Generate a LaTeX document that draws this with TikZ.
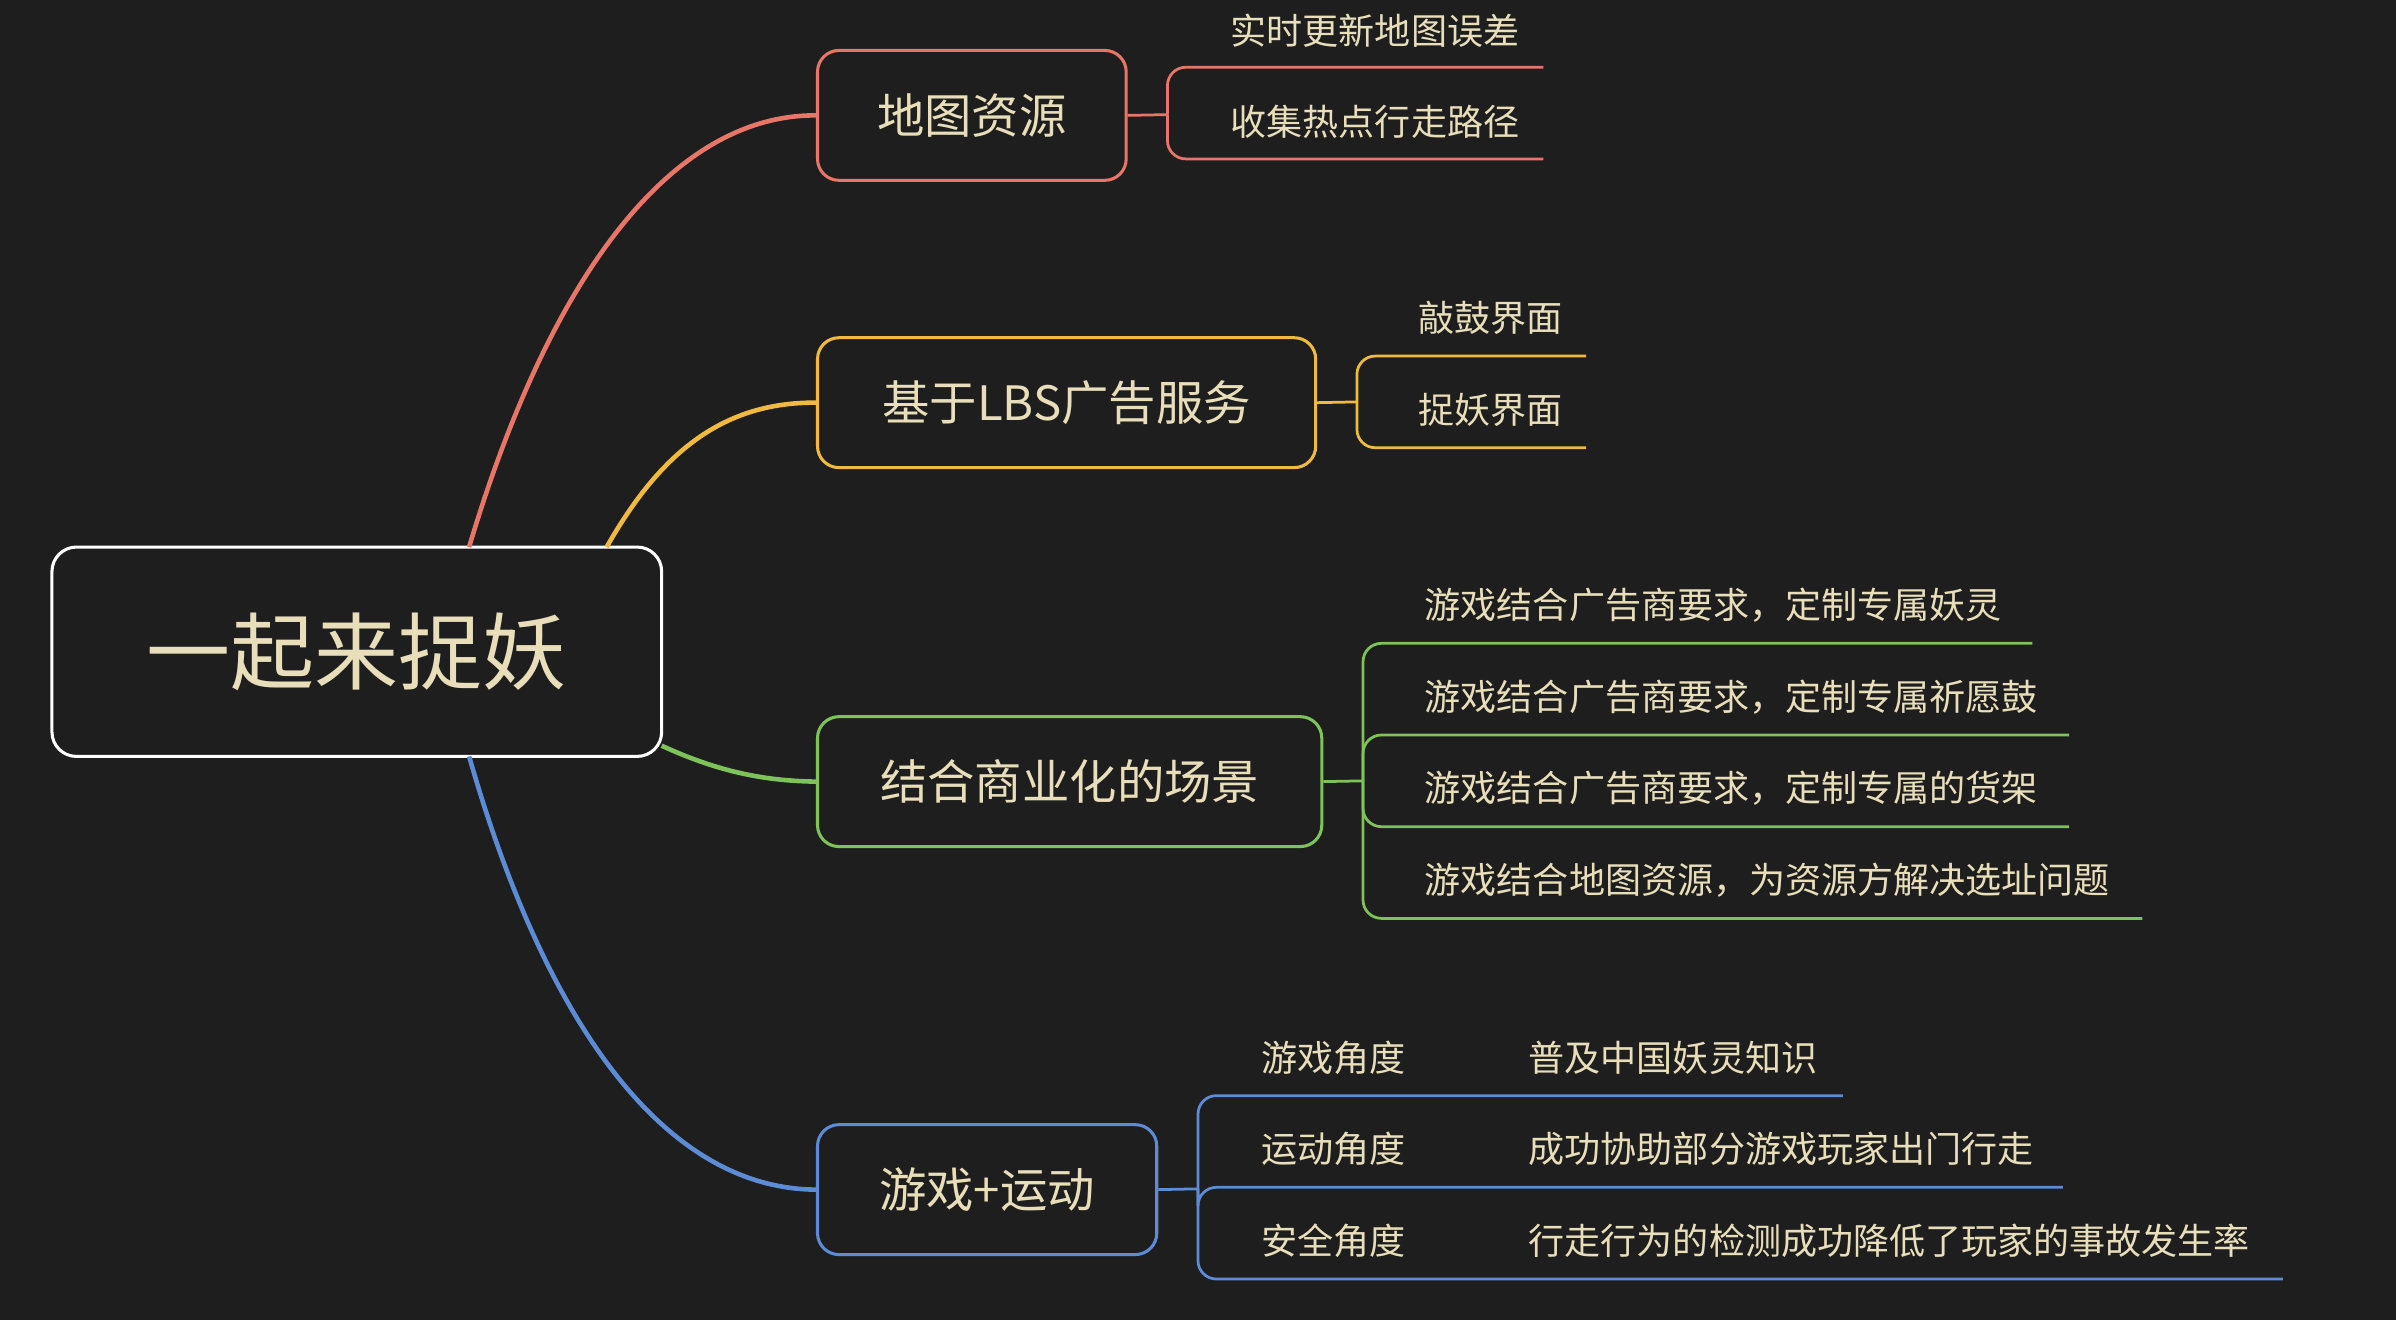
\documentclass[tikz,border=0pt]{standalone}
\usepackage{fontspec}
\setmainfont{Noto Sans CJK SC}
\begin{document}
\begin{tikzpicture}[x=0.5pt,y=-0.5pt]
\definecolor{bg}{RGB}{30,30,31}
\definecolor{tx}{RGB}{232,222,186}
\definecolor{cr}{RGB}{232,118,104}
\definecolor{cy}{RGB}{240,186,64}
\definecolor{cg}{RGB}{125,195,90}
\definecolor{cb}{RGB}{92,140,214}
\tikzset{
 box/.style={draw=#1,line width=1pt,rounded corners=7pt,text=tx,font=\fontsize{15.5}{18}\selectfont,inner sep=0pt},
 leaf/.style={text=tx,font=\fontsize{11.8}{14}\selectfont,anchor=west,inner sep=0pt},
 br/.style={draw=#1,line width=0.9pt,rounded corners=6pt},
 cu/.style={draw=#1,line width=1.5pt}
}
\fill[bg] (0,0) rectangle (1568,864);
\node[draw=white,line width=1pt,rounded corners=8pt,text=tx,font=\fontsize{27.5}{32}\selectfont,minimum width=199.5pt,minimum height=68.5pt] (root) at (233.5,426.5) {一起来捉妖};
\node[box=cr,minimum width=101pt,minimum height=42.5pt] (b1) at (636,75.5) {地图资源};
\node[box=cy,minimum width=163pt,minimum height=42.5pt] (b2) at (698,263.5) {基于LBS广告服务};
\node[box=cg,minimum width=165pt,minimum height=42.5pt] (b3) at (700,511.5) {结合商业化的场景};
\node[box=cb,minimum width=111pt,minimum height=42.5pt] (b4) at (646,778.5) {游戏+运动};
\coordinate (r1) at (307,358); \coordinate (r2) at (397,358);
\coordinate (r3) at (433,488); \coordinate (r4) at (307,495);
\draw[cu=cr] (r1) .. controls (360,180) and (440,75) .. (b1.west);
\draw[cu=cy] (r2) .. controls (430,300) and (470,263) .. (b2.west);
\draw[cu=cg] (r3) .. controls (470,505) and (500,511) .. (b3.west);
\draw[cu=cb] (r4) .. controls (360,680) and (440,778) .. (b4.west);
% branch 1
\coordinate (j1) at (764,75);
\draw[br=cr] (b1.east) -- (j1);
\coordinate (e11) at (1010,44); \coordinate (e12) at (1010,104);
\draw[br=cr] (j1) |- (e11); \draw[br=cr] (j1) |- (e12);
\node[leaf] (t11) at (805,20) {实时更新地图误差};
\node[leaf] (t12) at (805,80) {收集热点行走路径};
% branch 2
\coordinate (j2) at (888,263);
\draw[br=cy] (b2.east) -- (j2);
\coordinate (e21) at (1038,233); \coordinate (e22) at (1038,293);
\draw[br=cy] (j2) |- (e21); \draw[br=cy] (j2) |- (e22);
\node[leaf] (t21) at (928,208) {敲鼓界面};
\node[leaf] (t22) at (928,268) {捉妖界面};
% branch 3
\coordinate (j3) at (892,511);
\draw[br=cg] (b3.east) -- (j3);
\coordinate (e31) at (1330,421); \coordinate (e32) at (1354,481);
\coordinate (e33) at (1354,541); \coordinate (e34) at (1402,601);
\foreach \e in {e31,e32,e33,e34} \draw[br=cg] (j3) |- (\e);
\node[leaf] (t31) at (932,396) {游戏结合广告商要求，定制专属妖灵};
\node[leaf] (t32) at (932,456) {游戏结合广告商要求，定制专属祈愿鼓};
\node[leaf] (t33) at (932,516) {游戏结合广告商要求，定制专属的货架};
\node[leaf] (t34) at (932,576) {游戏结合地图资源，为资源方解决选址问题};
% branch 4
\coordinate (j4) at (784,778);
\draw[br=cb] (b4.east) -- (j4);
\coordinate (e41) at (1206,717); \coordinate (e42) at (1350,777);
\coordinate (e43) at (1494,837);
\foreach \e in {e41,e42,e43} \draw[br=cb] (j4) |- (\e);
\node[leaf] (t41) at (825,692) {游戏角度};
\node[leaf] (t42) at (825,752) {运动角度};
\node[leaf] (t43) at (825,812) {安全角度};
\node[leaf] (u41) at (1000,692) {普及中国妖灵知识};
\node[leaf] (u42) at (1000,752) {成功协助部分游戏玩家出门行走};
\node[leaf] (u43) at (1000,812) {行走行为的检测成功降低了玩家的事故发生率};
\end{tikzpicture}
\end{document}
